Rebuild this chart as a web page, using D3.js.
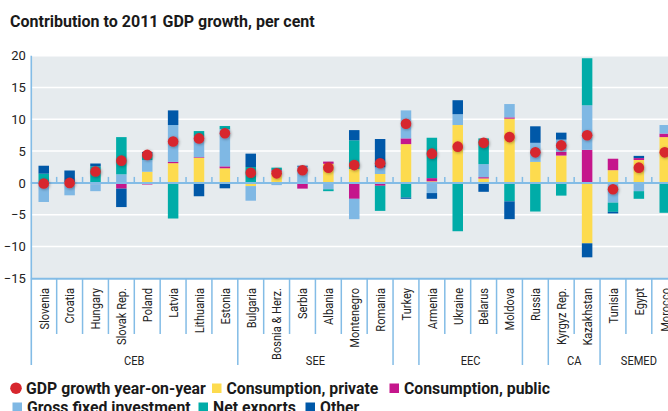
<!DOCTYPE html>
<html>
<head>
<meta charset="utf-8">
<script src="https://cdn.jsdelivr.net/npm/d3@7"></script>
<style>
  html, body { margin: 0; padding: 0; background: #fff; }
  svg { display: block; font-family: Roboto, "Noto Sans", sans-serif; }
</style>
</head>
<body>
<svg id="chart" width="668" height="411"></svg>
<script>
// Contributions to 2011 GDP growth (percentage points) by country
const countries = ["Slovenia", "Croatia", "Hungary", "Slovak Rep.", "Poland", "Latvia", "Lithuania", "Estonia",
  "Bulgaria", "Bosnia & Herz.", "Serbia", "Albania", "Montenegro", "Romania", "Turkey",
  "Armenia", "Ukraine", "Belarus", "Moldova", "Russia", "Kyrgyz Rep.", "Kazakhstan",
  "Tunisia", "Egypt", "Morocco"];
const consumptionPrivate = [0, 0, 0, 0, 1.75, 3.1, 3.95, 2.3, -0.5, 1.75, 0, 3.0, 2.2, 1.4, 6.1,
  0.25, 9.1, 0.7, 10.1, 3.3, 4.3, -9.5, 2.0, 3.6, 7.2];
const consumptionPublic = [-0.2, 0, -0.2, -0.9, -0.25, 0.2, 0.1, 0.3, 0, 0.25, -0.9, 0.35, -2.5, -0.45, 0.9,
  0.5, 0, 0.2, 0.2, 0, 0.6, 5.2, 1.8, 0.3, 0.55];
const grossFixedInvestment = [-2.8, -1.95, -1.1, 1.35, 1.85, 5.8, 3.25, 5.85, -2.3, -0.35, 2.55, -1.0, -3.2, 1.05, 4.4,
  -1.6, 1.7, 2.05, 2.1, 3.0, 1.9, 7.0, -3.1, -1.3, 1.35];
const netExports = [1.45, 0, 2.6, 5.85, 1.0, -5.6, 0.85, 0.5, 2.5, 0.4, 0, -0.3, 4.5, -3.95, -2.3,
  6.35, -7.6, 4.05, -2.9, -4.5, -2.0, 7.4, -1.45, -1.2, -4.7];
const otherItems = [1.25, 1.95, 0.45, -2.9, 0.25, 2.3, -2.1, -0.85, 2.1, 0, 0.15, 0, 1.6, 4.45, -0.2,
  -0.9, 2.2, -1.4, -2.8, 2.6, 1.1, -2.2, -0.25, 0.35, 0];
const gdpGrowth = [-0.1, 0.0, 1.8, 3.5, 4.4, 6.5, 7.0, 7.8, 1.6, 1.5, 2.0, 2.4, 2.8, 3.1, 9.3,
  4.6, 5.7, 6.3, 7.2, 4.8, 5.9, 7.5, -1.0, 2.4, 4.8];

// Regional groupings along the category axis (unnamed groups hold a single country)
const groupNames = ["CEB", "SEE", "", "EEC", "", "CA", "SEMED"];
const groupSizes = [8, 6, 1, 4, 1, 2, 3];

const yTicks = [20, 15, 10, 5, 0, -5, -10, -15];

const seriesNames = ["Consumption, private", "Consumption, public", "Gross fixed investment", "Net exports", "Other"];
const seriesValues = [consumptionPrivate, consumptionPublic, grossFixedInvestment, netExports, otherItems];
const seriesColors = ["#fddb4e", "#c5168c", "#7fb8e4", "#00aca8", "#0058a8"];
const dotColor = "#d7262d";
const axisColor = "#83bce6";

const svg = d3.select("#chart");

// Layout
const plotLeft = 30.8, step = 25.875;
const plotTop = 55.7, plotBottom = 278.3;

const x = d3.scaleBand().domain(countries).range([plotLeft, plotLeft + step * countries.length]).padding(0);
const y = d3.scaleLinear().domain([-15, 20]).range([plotBottom, plotTop]);
const barW = 10.5;

// Title
svg.append("text")
  .attr("x", 10).attr("y", 26.5)
  .attr("font-size", 16).attr("font-weight", 700).attr("fill", "#1a1a1a")
  .text("Contribution to 2011 GDP growth, per cent");

// Plot background and gridlines
svg.append("rect")
  .attr("x", plotLeft).attr("y", y(20))
  .attr("width", 668 - plotLeft).attr("height", y(-15) - y(20))
  .attr("fill", "#e6ebee");

svg.append("g").selectAll("line")
  .data(yTicks.filter(v => v !== 0 && v !== -15))
  .join("line")
  .attr("x1", plotLeft).attr("x2", 668)
  .attr("y1", d => y(d)).attr("y2", d => y(d))
  .attr("stroke", "#fff").attr("stroke-width", 1.5);

// Stacked contributions (positive parts above zero, negative below)
const rows = countries.map((c, i) => {
  const r = { country: c };
  seriesNames.forEach((s, k) => { r[s] = seriesValues[k][i]; });
  return r;
});
const stacked = d3.stack().keys(seriesNames).offset(d3.stackOffsetDiverging)(rows);

svg.append("g").selectAll("g")
  .data(stacked)
  .join("g")
  .attr("fill", (d, i) => seriesColors[i])
  .selectAll("rect")
  .data(d => d.filter(p => p[1] !== p[0]))
  .join("rect")
  .attr("x", d => x(d.data.country) + x.bandwidth() / 2 - barW / 2)
  .attr("width", barW)
  .attr("y", d => y(Math.max(d[0], d[1])))
  .attr("height", d => Math.abs(y(d[0]) - y(d[1])));

// Zero line with boundary ticks
svg.append("line")
  .attr("x1", plotLeft).attr("x2", 668)
  .attr("y1", y(0)).attr("y2", y(0))
  .attr("stroke", axisColor).attr("stroke-width", 2);

svg.append("g").selectAll("line")
  .data(countries.slice(1))
  .join("line")
  .attr("x1", d => x(d)).attr("x2", d => x(d))
  .attr("y1", y(0)).attr("y2", y(0) - 6)
  .attr("stroke", axisColor).attr("stroke-width", 1.5);

// GDP growth dots
const defs = svg.append("defs");
const f = defs.append("filter").attr("id", "dotShadow")
  .attr("x", "-60%").attr("y", "-60%").attr("width", "220%").attr("height", "220%");
f.append("feDropShadow")
  .attr("dx", 0.8).attr("dy", 0.8).attr("stdDeviation", 1.4)
  .attr("flood-color", "#000").attr("flood-opacity", 0.35);

svg.append("g").selectAll("circle")
  .data(countries)
  .join("circle")
  .attr("cx", d => x(d) + x.bandwidth() / 2)
  .attr("cy", (d, i) => y(gdpGrowth[i]))
  .attr("r", 5.3)
  .attr("fill", dotColor)
  .attr("filter", "url(#dotShadow)");

// Left value axis
const yAxis = svg.append("g")
  .attr("transform", `translate(${plotLeft},0)`)
  .call(d3.axisLeft(y).tickValues(yTicks).tickSize(0).tickPadding(5).tickFormat(d3.format("d")));
yAxis.select(".domain").remove();
yAxis.selectAll("text").attr("font-size", 13).attr("fill", "#222").attr("font-family", "Roboto, sans-serif");

// Bottom border of the plot and the left axis line
svg.append("line")
  .attr("x1", plotLeft).attr("x2", 668)
  .attr("y1", plotBottom + 0.5).attr("y2", plotBottom + 0.5)
  .attr("stroke", axisColor).attr("stroke-width", 2);

svg.append("line")
  .attr("x1", plotLeft + 0.5).attr("x2", plotLeft + 0.5)
  .attr("y1", plotTop).attr("y2", 365)
  .attr("stroke", axisColor).attr("stroke-width", 1.6);

// Category separators: long ones mark group boundaries
const groupStarts = [];
let acc = 0;
groupSizes.forEach(n => { groupStarts.push(acc); acc += n; });
const sepShort = 334, sepLong = 365;
svg.append("g").selectAll("line")
  .data(countries.slice(1))
  .join("line")
  .attr("x1", d => x(d)).attr("x2", d => x(d))
  .attr("y1", plotBottom)
  .attr("y2", (d, i) => groupStarts.includes(i + 1) ? sepLong : sepShort)
  .attr("stroke", axisColor).attr("stroke-width", 1.5);

// Country labels, rotated
svg.append("g").selectAll("text")
  .data(countries)
  .join("text")
  .attr("transform", d => `translate(${x(d) + x.bandwidth() / 2},288) rotate(-90) scale(0.82,1)`)
  .attr("text-anchor", "end")
  .attr("dy", "0.36em")
  .attr("font-size", 13.5)
  .attr("fill", "#222")
  .text(d => d);

// Group labels
svg.append("g").selectAll("text")
  .data(groupNames.map((g, i) => ({ name: g, start: groupStarts[i], size: groupSizes[i] })).filter(g => g.name))
  .join("text")
  .attr("transform", g => {
    const x0 = x(countries[g.start]);
    const cx = x0 + step * g.size / 2;
    return `translate(${cx},365) scale(0.82,1)`;
  })
  .attr("text-anchor", "middle")
  .attr("font-size", 13.5)
  .attr("fill", "#222")
  .text(g => g.name);

// Legend
const legendItems = [
  { label: "GDP growth year-on-year", color: dotColor, dot: true, x: 10, row: 0 },
  { label: seriesNames[0], color: seriesColors[0], x: 212, row: 0 },
  { label: seriesNames[1], color: seriesColors[1], x: 389.5, row: 0 },
  { label: seriesNames[2], color: seriesColors[2], x: 12.5, row: 1 },
  { label: seriesNames[3], color: seriesColors[3], x: 198.5, row: 1 },
  { label: seriesNames[4], color: seriesColors[4], x: 305.5, row: 1 }
];
const legendBase = [393.5, 412.5];
const lg = svg.append("g").selectAll("g").data(legendItems).join("g");
lg.each(function (d) {
  const g = d3.select(this);
  const base = legendBase[d.row];
  if (d.dot) {
    g.append("circle").attr("cx", d.x + 6).attr("cy", base - 5.3).attr("r", 5.8).attr("fill", d.color);
  } else {
    g.append("rect").attr("x", d.x).attr("y", base - 10).attr("width", 9.5).attr("height", 9.5).attr("fill", d.color);
  }
  g.append("text")
    .attr("x", d.dot ? d.x + 16 : d.x + 14.5)
    .attr("y", base)
    .attr("font-size", 15.8).attr("font-weight", 700).attr("fill", "#1a1a1a")
    .text(d.label);
});
</script>
</body>
</html>
